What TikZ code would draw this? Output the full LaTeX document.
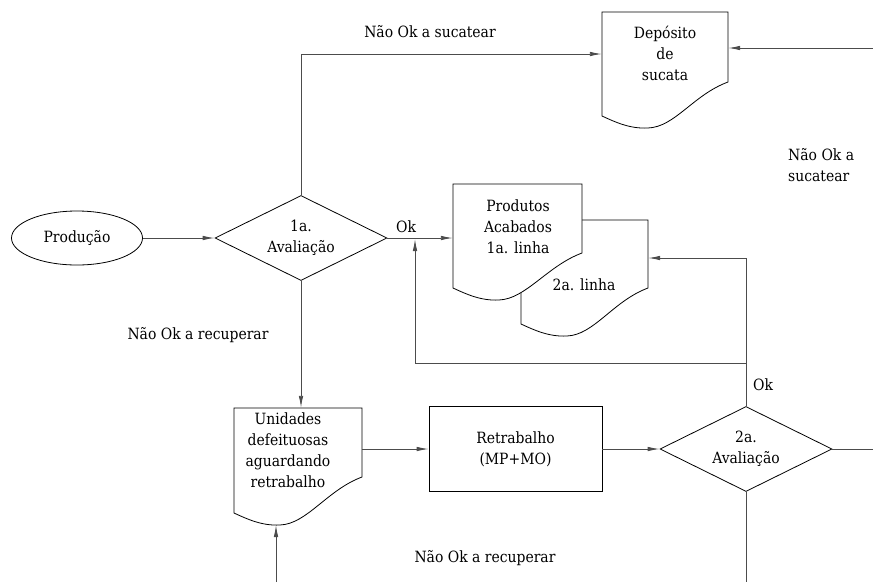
\documentclass[tikz,border=0pt]{standalone}
\usepackage{fontspec}
\setmainfont{DejaVu Serif Condensed}
\usetikzlibrary{shapes.geometric,arrows.meta}

\tikzset{
  txt/.style={font=\fontsize{15.5}{21}\selectfont, align=center, inner sep=0pt},
  outline/.style={draw=black, line width=0.8pt},
  conn/.style={draw=black!70, line width=0.9pt},
  arr/.style={conn, -{Latex[length=12pt,width=4.5pt]}},
  decision/.style={diamond, outline, txt, aspect=2, minimum width=172pt, minimum height=85pt},
  terminal/.style={ellipse, outline, txt, minimum width=131pt, minimum height=54pt},
  process/.style={rectangle, outline, txt, minimum width=173pt, minimum height=85pt},
  docbox/.style={draw=none, inner sep=0pt},
}

% document symbol: left x, top y, right x, left bottom y, right bottom y
\newcommand\wavedoc[5]{%
  \draw[outline, fill=white] (#1,#4) -- (#1,#2) -- (#3,#2) -- (#3,#5)
    .. controls ({#3-35},{#5+13}) and ({#1+73},{#4+11}) .. ({#1+46},{#4+12})
    .. controls ({#1+28},{#4+13}) and ({#1+13},{#4+6}) .. (#1,#4) -- cycle;}

\begin{document}
\begin{tikzpicture}[x=1pt,y=-1pt]
  \useasboundingbox (0,0) rectangle (873,582);

  % document symbols
  \wavedoc{602}{12}{728}{116}{82}
  \wavedoc{521}{220}{648}{324}{288}
  \wavedoc{453}{184}{582}{288}{253}
  \wavedoc{234}{408}{362}{513}{477}

  \node[docbox, minimum width=126pt, minimum height=104pt] (dep) at (665,64) {};
  \node[docbox, minimum width=127pt, minimum height=104pt] (p2) at (584.5,272) {};
  \node[docbox, minimum width=129pt, minimum height=104pt] (p1) at (517.5,236) {};
  \node[docbox, minimum width=128pt, minimum height=105pt] (unid) at (298,460.5) {};

  \node[txt] (deptx) at (665,53) {Depósito\\de\\sucata};
  \node[txt] (p1tx) at (518,227) {Produtos\\Acabados\\1a. linha};
  \node[txt] (p2tx) at (584,285) {2a. linha};
  \node[txt] (unidtx) at (288,450) {Unidades\\defeituosas\\aguardando\\retrabalho};

  % flow nodes
  \node[terminal] (prod) at (77,238) {Produção};
  \node[decision] (d1) at (301,238) {1a.\\Avaliação};
  \node[process] (retr) at (515.5,449) {Retrabalho\\(MP+MO)};
  \node[decision] (d2) at (746,449) {2a.\\Avaliação};

  % labels
  \node[txt] (lbltop) at (430,32) {Não Ok a sucatear};
  \node[txt, anchor=west, align=left] (lblright) at (788,165) {Não Ok a\\sucatear};
  \node[txt] (lblleft) at (198,335) {Não Ok a recuperar};
  \node[txt] (lblbottom) at (485,558) {Não Ok a recuperar};
  \node[txt] (lblok1) at (406,227) {Ok};
  \node[txt] (lblok2) at (763,385) {Ok};

  % free ends and junctions
  \coordinate (rin) at (873,48);
  \coordinate (rout) at (873,449);
  \coordinate (bout) at (746,582);
  \coordinate (bin) at (276,582);
  \coordinate (unidlow) at (276,525);
  \coordinate (fork) at (746,363);
  \coordinate (okjoin) at (415,239);

  % connectors
  \draw[arr] (prod.east) -- (d1.west);
  \draw[arr] (d1.north) |- ([yshift=10pt]dep.west);
  \draw[arr] (rin) -- (rin -| dep.east);
  \draw[arr] (d1.east) -- (d1.east -| p1.west);
  \draw[arr] (d1.south) -- (d1.south |- unid.north);
  \draw[arr] (retr.west -| unid.east) -- (retr.west);
  \draw[arr] (retr.east) -- (d2.west);
  \draw[arr] (d2.north) |- ([yshift=14pt]p2.east);
  \draw[arr] (fork) -| (okjoin);
  \draw[conn] (d2.east) -- (rout);
  \draw[conn] (d2.south) -- (bout);
  \draw[arr] (bin) -- (unidlow);
\end{tikzpicture}
\end{document}
